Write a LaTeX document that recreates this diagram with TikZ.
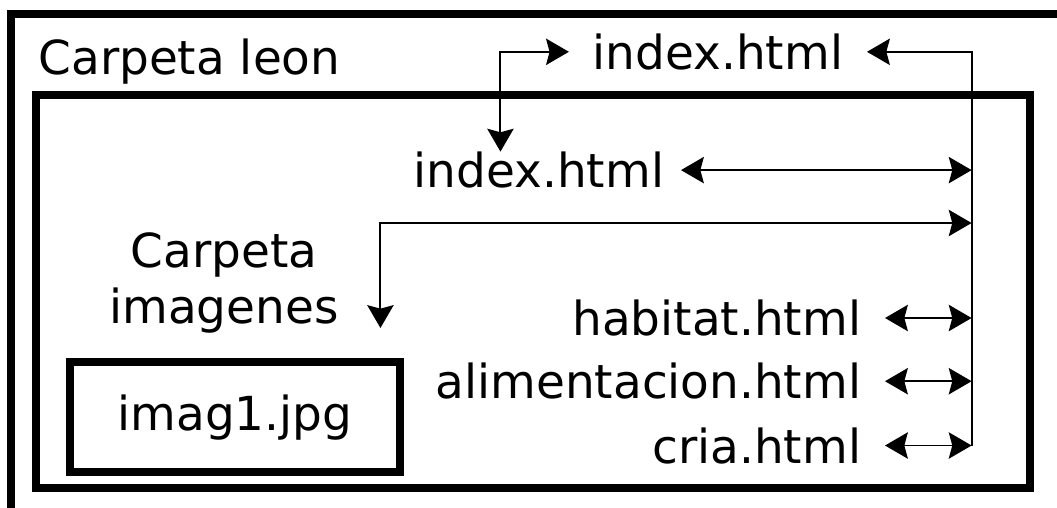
\documentclass[tikz,border=0pt]{standalone}
\usepackage{fontspec}
\setmainfont{DejaVu Sans}
\usetikzlibrary{arrows.meta}

\tikzset{
  box/.style={line width=4.4pt},
  file/.style={inner sep=0pt, outer xsep=0.48cm, anchor=base east},
  link/.style={line width=1.1pt},
  >={Stealth[length=13pt,width=15pt,inset=2pt]}
}

\begin{document}
\begin{tikzpicture}[x=0.02cm,y=-0.02cm,font=\fontsize{26.7}{32}\selectfont]
    \useasboundingbox (0,0) rectangle (1057,507);
    % folders
    \draw[box] (11.3,520) -- (11.3,13.9) -- (1070,13.9);
    \draw[box] (36,95) rectangle (1030,488);
    \node[inner sep=0pt,anchor=base west] (leon) at (38.2,74.4) {Carpeta leon};
    \node[inner sep=0pt,align=center] (imgs) at (224,283) {Carpeta\\imagenes};
    \node[draw,box,minimum width=6.6cm,minimum height=2.2cm,inner sep=0pt] (jpg) at (235,417.3) {imag1.jpg};
    % files
    \node[file] (idxtop) at (867,69.3) {index.html};
    \node[file,outer xsep=0.34cm] (idx) at (681,187.6) {index.html};
    \foreach \nm/\lbl/\y in {habitat/habitat.html/335.5,alim/alimentacion.html/398.7,cria/cria.html/463} {
        \node[file] (\nm) at (885,\y) {\lbl};
    }
    % links
    \coordinate (bustop) at (971.6,53);
    \coordinate (busimg) at (971.6,223);
    \draw[link,->] (cria.east -| bustop) |- (idxtop.east); % bus
    \draw[link,<->] (idxtop.west) -| ([shift={(-38.5,0)}]idx.north);
    \draw[link,<->] (idx.east) -- (idx.east -| bustop);
    \draw[link,<->] (busimg) -| ([shift={(41.5,45)}]imgs.east);
    \foreach \nm in {habitat,alim,cria} {\draw[link,<->] (\nm.east) -- (\nm.east -| bustop);}
\end{tikzpicture}
\end{document}
